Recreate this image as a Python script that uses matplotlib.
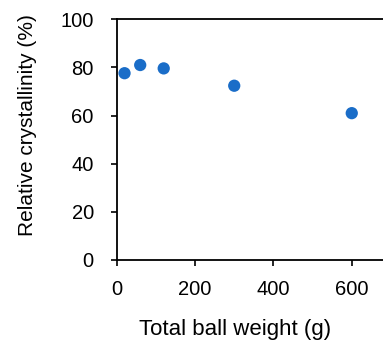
import matplotlib.pyplot as plt

plt.rcParams['font.family'] = ['Liberation Sans', 'DejaVu Sans']

ball_weight = [20, 60, 120, 300, 600]
crystallinity = [77.6, 81.0, 79.6, 72.4, 61.0]

fig = plt.figure(figsize=(3.83, 3.42), dpi=100)
ax = fig.add_axes([0.3047, 0.2398, 0.716, 0.7038])

ax.scatter(ball_weight, crystallinity, s=78, color='#1A6DC8', edgecolors='none', zorder=3)

ax.set_xlim(0, 700)
ax.set_ylim(0, 100)
ax.set_xticks([0, 200, 400, 600])
ax.set_yticks([0, 20, 40, 60, 80, 100])
ax.tick_params(labelsize=14.5, length=4.5, width=1.2, direction='out')
ax.tick_params(axis='y', pad=12)
ax.tick_params(axis='x', pad=10)
for sp in ax.spines.values():
    sp.set_linewidth(1.3)
    sp.set_color('black')

ax.set_xlabel('Total ball weight (g)', fontsize=16)
ax.set_ylabel('Relative crystallinity (%)', fontsize=15)
ax.xaxis.set_label_coords(0.43, -0.245)
ax.yaxis.set_label_coords(-0.289, 0.561)

fig.savefig('out.png', dpi=100)
